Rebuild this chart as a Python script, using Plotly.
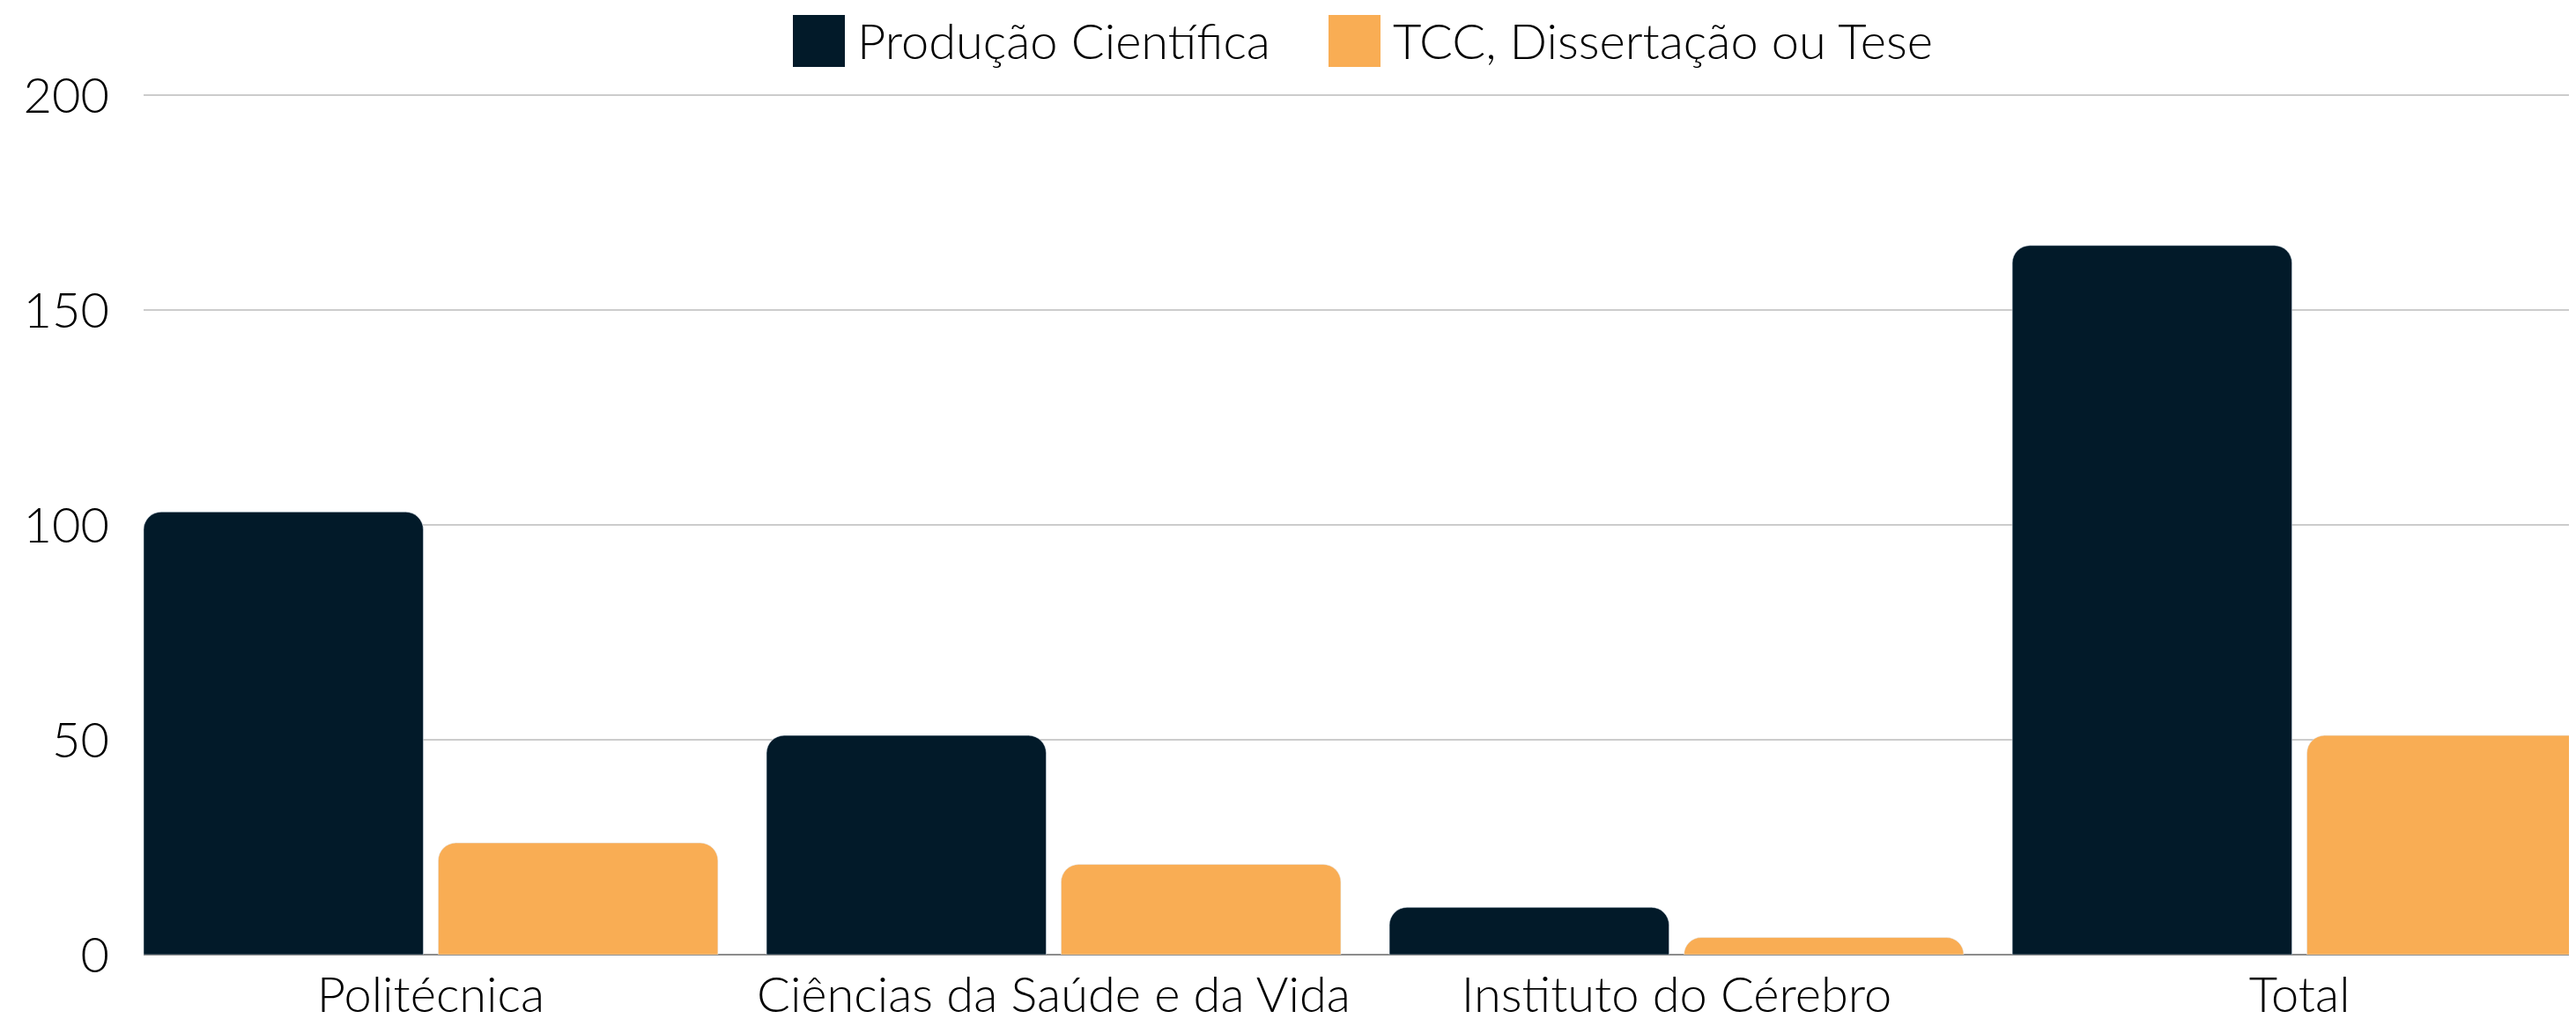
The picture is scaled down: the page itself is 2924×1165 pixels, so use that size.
import plotly.graph_objects as go

categorias = ["Politécnica", "Ciências da Saúde e da Vida", "Instituto do Cérebro", "Total"]
producao_cientifica = [103, 51, 11, 165]
tcc_dissertacao_tese = [26, 21, 4, 51]
series_nomes = ["Produção Científica", "TCC, Dissertação ou Tese"]
y_ticks = [0, 50, 100, 150, 200]

COR_ESCURA = "#021a29"
COR_LARANJA = "#f9ad54"
FONTE = "Lato"
TAM = 56

# o <body> da pagina tem margem de 8px, entao a figura fica 8px menor
BODY = 8
W, H = 2924 - BODY, 1165 - BODY
M_L, M_R, M_T, M_B = 155, 0, 98, 81

fig = go.Figure()
fig.add_trace(
    go.Bar(
        x=categorias,
        y=producao_cientifica,
        name=series_nomes[0],
        marker=dict(color=COR_ESCURA, cornerradius=20),
        width=0.449,
        offset=-0.461,
    )
)
fig.add_trace(
    go.Bar(
        x=categorias,
        y=tcc_dissertacao_tese,
        name=series_nomes[1],
        marker=dict(color=COR_LARANJA, cornerradius=20),
        width=0.449,
        offset=0.012,
    )
)

# legenda com quadrados grandes (a legenda nativa tem simbolos pequenos)
plot_w = W - M_L - M_R
plot_h = H - M_T - M_B


def px_x(p):
    return (p - BODY - M_L) / plot_w


def px_y(p):
    return (H - M_B - (p - BODY)) / plot_h


legenda = [(900, 959, COR_ESCURA, series_nomes[0]), (1508, 1567, COR_LARANJA, series_nomes[1])]
for x0, x1, cor, nome in legenda:
    fig.add_shape(
        type="rect",
        xref="paper",
        yref="paper",
        x0=px_x(x0),
        x1=px_x(x1),
        y0=px_y(76),
        y1=px_y(17),
        fillcolor=cor,
        line=dict(width=0),
    )
    fig.add_annotation(
        xref="paper",
        yref="paper",
        x=px_x(x1 + 12),
        y=px_y(46),
        xanchor="left",
        yanchor="middle",
        text=nome,
        showarrow=False,
        font=dict(family=FONTE, size=TAM, color="#000000", weight=300),
    )

fig.update_layout(
    width=W,
    height=H,
    margin=dict(l=M_L, r=M_R, t=M_T, b=M_B, autoexpand=False),
    paper_bgcolor="white",
    plot_bgcolor="white",
    showlegend=False,
    barmode="group",
    font=dict(family=FONTE, size=TAM, color="#000000", weight=300),
)
fig.update_xaxes(
    type="category",
    range=[-0.461, 3.444],
    automargin=False,
    showgrid=False,
    showline=False,
    ticks="",
    ticklabelstandoff=8,
    tickfont=dict(family=FONTE, size=TAM, color="#000000", weight=300),
)
fig.update_yaxes(
    range=[0, 200.4],
    tickvals=y_ticks,
    automargin=False,
    showgrid=True,
    gridcolor="#cccccc",
    gridwidth=2,
    zeroline=True,
    zerolinecolor="#8c8c8c",
    zerolinewidth=2,
    showline=False,
    ticks="",
    ticklabelstandoff=38,
    tickfont=dict(family=FONTE, size=TAM, color="#000000", weight=300),
)

fig.write_html("out.html")
